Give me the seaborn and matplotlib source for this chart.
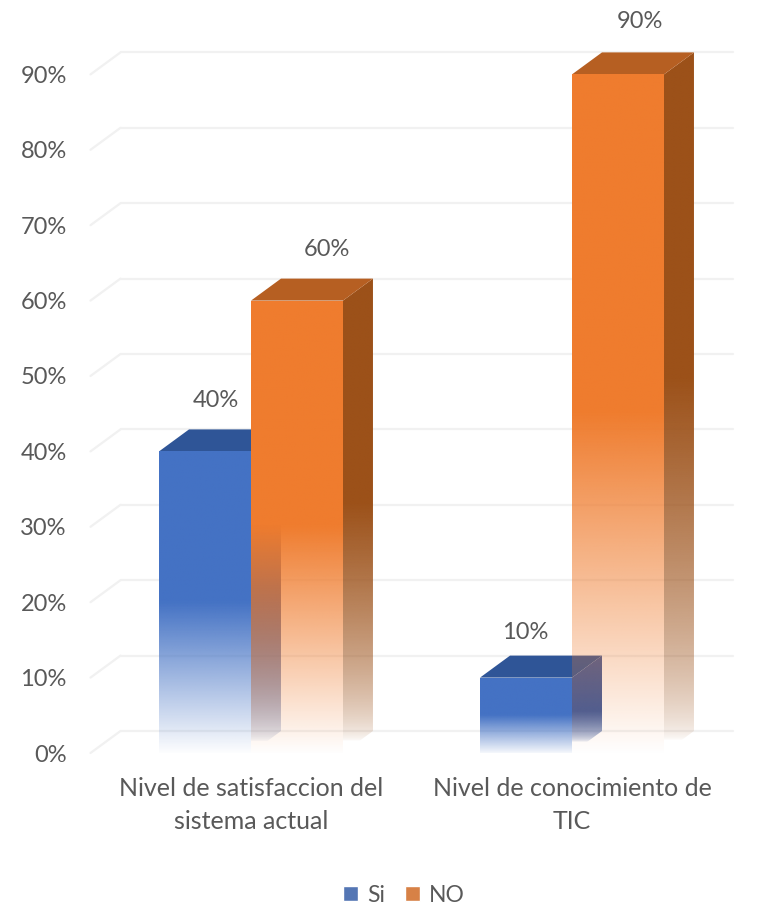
import numpy as np
import pandas as pd
import seaborn as sns
import matplotlib
matplotlib.use("Agg")
import matplotlib.pyplot as plt
from matplotlib.colors import to_rgb
from matplotlib.patches import Polygon

categories = ["Nivel de satisfaccion del\nsistema actual", "Nivel de conocimiento de\nTIC"]
si_values = [40, 10]
no_values = [60, 90]
series_names = ["Si", "NO"]
y_ticks = [0, 10, 20, 30, 40, 50, 60, 70, 80, 90]

front_colors = {"Si": "#4472c4", "NO": "#ef7c2e"}
top_colors = {"Si": "#2f5597", "NO": "#b65f22"}
side_colors = {"Si": "#3d5a9c", "NO": "#9c5119"}
text_color = "#595959"
grid_color = "#f1f1f1"

sns.set_theme(style="white")
plt.rcParams["font.family"] = ["Lato", "DejaVu Sans"]

W, H = 761, 911
fig = plt.figure(figsize=(W / 100, H / 100), dpi=100)
ax = fig.add_axes([90.5 / W, (H - 753) / H, 642 / W, 753 / H])

frame = pd.DataFrame({
    "categoria": categories * 2,
    "serie": [series_names[0]] * 2 + [series_names[1]] * 2,
    "valor": si_values + no_values,
})
sns.barplot(data=frame, x="categoria", y="valor", hue="serie", hue_order=series_names,
            palette=front_colors, width=0.573, gap=0, ax=ax, legend=True, errorbar=None)

ax.set_xlim(-0.5, 1.5)
ax.set_ylim(0, 753 / 7.54)

# depth of the extruded columns, in data units
dx = 30 / 321
dy = 22 / 7.54

def fade_image(color, y0, y1, solid_from, gamma):
    """Vertical RGBA ramp: transparent at y0, opaque from solid_from upward."""
    ys = np.linspace(y0, y1, 256)
    a = np.clip((ys - y0) / max(solid_from - y0, 1e-6), 0, 1) ** gamma
    img = np.ones((256, 1, 4))
    img[..., :3] = to_rgb(color)
    img[..., 3] = a[:, None]
    return img

def gradient_fill(patch, color, x0, x1, y0, y1, solid_from, z, gamma):
    im = ax.imshow(fade_image(color, y0, y1, solid_from, gamma), origin="lower", aspect="auto",
                   extent=(x0, x1, y0, y1), interpolation="bilinear", zorder=z)
    im.set_clip_path(patch)

# back wall grid and floor stubs
for t in y_ticks:
    ax.plot([-0.5 + dx, 1.5], [t + dy, t + dy], color=grid_color, lw=1.6, zorder=1, clip_on=False)
    ax.plot([-0.5, -0.5 + dx], [t, t + dy], color=grid_color, lw=1.6, zorder=1, clip_on=False)

# seaborn stores the bars series by series, so the orange columns overlap the blue ones
bars = list(ax.patches)
names = [series_names[0]] * 2 + [series_names[1]] * 2
z = 3
for bar, name in zip(bars, names):
    x0, x1 = bar.get_x(), bar.get_x() + bar.get_width()
    h = bar.get_height()
    bar.set_facecolor("none")
    bar.set_edgecolor("none")
    bar.set_zorder(z)

    side = Polygon([(x1, 0), (x1 + dx, dy), (x1 + dx, h + dy), (x1, h)], closed=True,
                   facecolor="none", edgecolor="none", zorder=z)
    ax.add_patch(side)
    gradient_fill(side, side_colors[name], x1, x1 + dx, dy * 0.5, h + dy, h * 0.55, z, 0.6)

    ax.add_patch(Polygon([(x0, h), (x0 + dx, h + dy), (x1 + dx, h + dy), (x1, h)], closed=True,
                         facecolor=top_colors[name], edgecolor="none", zorder=z + 0.1))

    gradient_fill(bar, front_colors[name], x0, x1, -0.3, h, h * 0.5, z + 0.2, 1.0)
    z += 1

ax.set_xlim(-0.5, 1.5)
ax.set_ylim(0, 753 / 7.54)

# value labels sit above the column tops; offsets are in pixels
label_shift = [(11, 51), (-1, 45), (30, 51), (22, 53)]
for (sx, sy), bar in zip(label_shift, bars):
    h = bar.get_height()
    ax.annotate(f"{h:.0f}%", (bar.get_x() + bar.get_width() / 2, h),
                xytext=(sx * 0.72, sy * 0.72), textcoords="offset points",
                ha="center", va="center", fontsize=17, color=text_color, zorder=20,
                annotation_clip=False)

ax.set_xlabel("")
ax.set_ylabel("")
ax.set_yticks(y_ticks)
ax.set_yticklabels([f"{t}%" for t in y_ticks], fontsize=17, color=text_color)
ax.tick_params(axis="y", length=0, pad=17)
ax.tick_params(axis="x", length=0, pad=17)
for lab in ax.get_xticklabels():
    lab.set_fontsize(18)
    lab.set_color(text_color)
    lab.set_linespacing(1.55)
sns.despine(ax=ax, left=True, bottom=True, top=True, right=True)
ax.patch.set_alpha(0)
ax.grid(False)

leg = ax.legend(loc="center", bbox_to_anchor=(404 / W, (H - 895) / H), bbox_transform=fig.transFigure,
                ncol=2, frameon=False, fontsize=16.5, handlelength=0.62, handleheight=0.62,
                handletextpad=0.4, columnspacing=0.9, labelcolor=text_color)

fig.savefig("out.png", dpi=100, facecolor="white")
